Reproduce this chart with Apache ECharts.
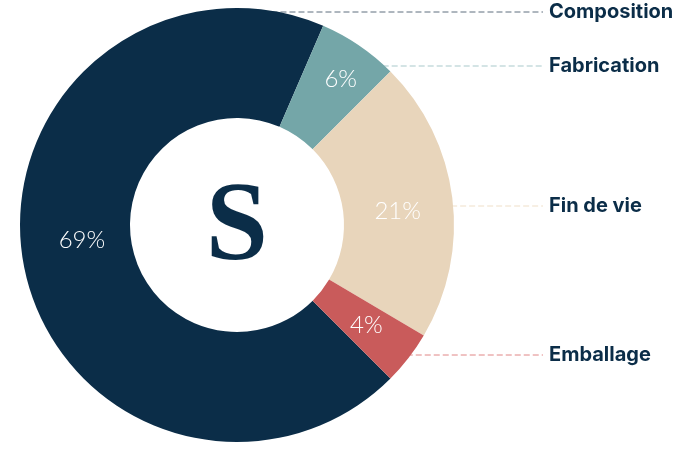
<!DOCTYPE html>
<html><head><meta charset="utf-8">
<script src="https://cdn.jsdelivr.net/npm/echarts@6/dist/echarts.min.js"></script>
<style>html,body{margin:0;padding:0;background:#fff}#c{width:696px;height:450px}</style>
</head><body><div id="c"></div>
<script>
const categories = ['Composition', 'Fabrication', 'Fin de vie', 'Emballage'];
const values = [69, 6, 21, 4];
const colors = ['#0b2d48', '#74a6a8', '#e8d5bb', '#c95b5b'];
const lineColors = ['#5f6f7f', '#a9c9cb', '#efdfc8', '#e08686'];
const labelYs = [12, 66, 206, 355];
const lineStartPad = [16, 2, 2, 4];
const insideOffsets = [[7, -16], [11, -9], [-3, 7], [-1, -1]];
const CX = 237, CY = 225, R0 = 107, R1 = 217, LABEL_X = 549, LINE_END = 543;

const chart = echarts.init(document.getElementById('c'));
const data = categories.map((n, i) => ({ name: n, value: values[i], itemStyle: { color: colors[i] },
  label: { offset: insideOffsets[i] } }));
chart.setOption({
  animation: false,
  graphic: [{
    type: 'text', x: CX, y: CY + 5,
    style: { text: 'S', fontFamily: 'Liberation Serif', fontWeight: 'bold', fontSize: 112, fill: '#0b2d48',
      align: 'center', verticalAlign: 'middle' }
  }],
  series: [{
    type: 'pie', center: [CX, CY], radius: [R0, R1], startAngle: -45, clockwise: true,
    silent: true, avoidLabelOverlap: false,
    data: data,
    label: {
      position: 'inside', color: '#fff', fontFamily: 'Lato', fontWeight: 300, fontSize: 24,
      formatter: p => p.value + '%'
    },
    labelLine: { show: false }
  }, {
    type: 'pie', center: [CX, CY], radius: [R0, R1], startAngle: -45, clockwise: true,
    silent: true, avoidLabelOverlap: false, minShowLabelAngle: 0,
    data: categories.map((n, i) => ({ name: n, value: values[i], itemStyle: { color: 'rgba(0,0,0,0)' },
      labelLine: { lineStyle: { color: lineColors[i] } } })),
    label: {
      show: true, position: 'outside', color: '#0b2d48', fontFamily: 'Inter', fontWeight: 'bold', fontSize: 20,
      formatter: p => p.name
    },
    labelLine: { show: true, length: 5, length2: 5, lineStyle: { type: [6, 3], width: 1 } },
    labelLayout: function (p) {
      const y = labelYs[p.dataIndex];
      const dy = y - CY;
      const x0 = CX + Math.sqrt(Math.max(0, R1 * R1 - dy * dy)) - lineStartPad[p.dataIndex];
      return {
        x: LABEL_X, y: y, align: 'left', verticalAlign: 'middle', hideOverlap: false, moveOverlap: null,
        labelLinePoints: [[x0, y], [x0 + 1, y], [LINE_END, y]]
      };
    }
  }]
});
</script></body></html>
